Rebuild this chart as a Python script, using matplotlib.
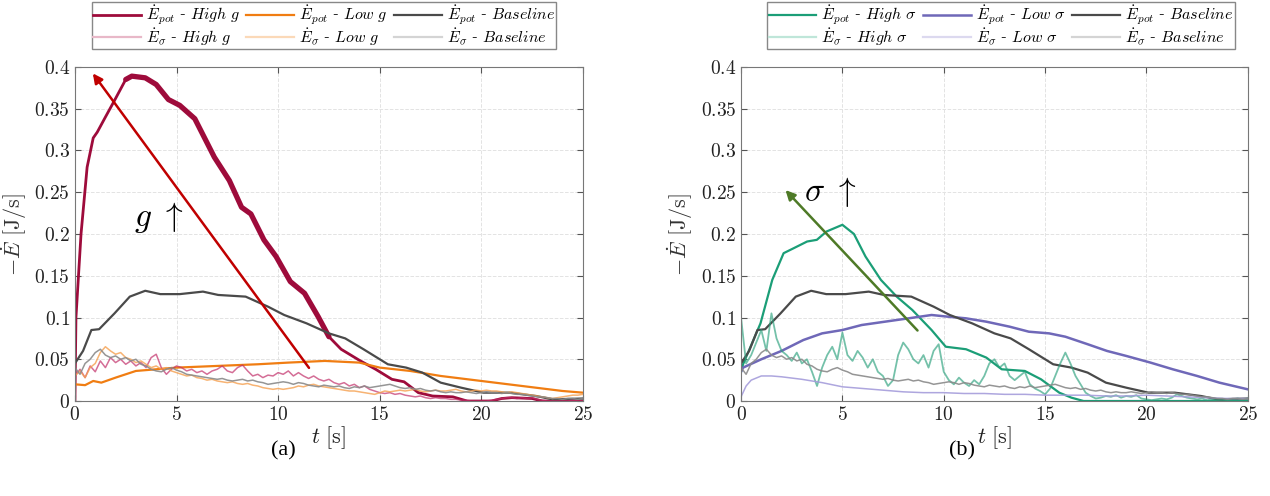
import numpy as np
import matplotlib
matplotlib.use("Agg")
import matplotlib.pyplot as plt

plt.rcParams['font.family'] = ['DejaVu Serif']
plt.rcParams['mathtext.fontset'] = 'cm'
plt.rcParams['axes.unicode_minus'] = False

# ---- smooth E_pot curves ----
t_high_g = [0, 0.05, 0.3, 0.6, 0.9, 1.1, 1.5, 1.95, 2.5, 2.8, 3.46, 4.0, 4.6, 5.16, 5.9, 6.86,
            7.6, 8.2, 8.66, 9.3, 9.9, 10.6, 11.3, 11.97, 12.5, 13.1, 14.05, 14.8, 15.6, 16.2,
            16.9, 17.6, 18.6, 19.3, 20.5, 21.0, 21.5, 22.5, 23.0, 25]
pot_high_g = [0.0, 0.10, 0.20, 0.28, 0.315, 0.322, 0.34, 0.36, 0.385, 0.389, 0.387, 0.379, 0.361,
              0.354, 0.338, 0.292, 0.264, 0.232, 0.224, 0.193, 0.173, 0.143, 0.129, 0.101, 0.077,
              0.062, 0.048, 0.038, 0.026, 0.023, 0.010, 0.006, 0.005, 0.0, 0.0, 0.003, 0.004,
              0.003, 0.0, 0.0]

t_low_g = [0, 0.5, 0.9, 1.3, 2, 3, 4, 5, 7, 9, 10.5, 12.3, 14, 15, 16.5, 18, 20, 22, 24, 25]
pot_low_g = [0.020, 0.019, 0.024, 0.022, 0.028, 0.036, 0.038, 0.040, 0.042, 0.044, 0.046, 0.048,
             0.046, 0.040, 0.036, 0.030, 0.024, 0.018, 0.012, 0.010]

t_base = [0, 0.4, 0.81, 1.19, 1.95, 2.7, 3.46, 4.2, 5.16, 6.3, 7.05, 8.4, 9.5, 10.3, 11.4, 12.5,
          13.3, 14.2, 15.4, 16.3, 17.1, 18.0, 19.0, 20.1, 21.4, 22.7, 23.5, 25]
pot_base = [0.045, 0.060, 0.085, 0.086, 0.105, 0.125, 0.132, 0.128, 0.128, 0.131, 0.127, 0.125,
            0.113, 0.103, 0.093, 0.081, 0.075, 0.062, 0.044, 0.040, 0.034, 0.022, 0.016, 0.010,
            0.010, 0.006, 0.002, 0.003]

t_high_s = [0, 0.1, 0.96, 1.54, 2.1, 2.6, 3.26, 3.74, 4.22, 5.0, 5.57, 6.14, 6.9, 7.68, 8.45, 9.4,
            10.1, 11.1, 12.1, 12.86, 14.0, 14.8, 15.7, 16.3, 16.9, 20, 25]
pot_high_s = [0.035, 0.044, 0.093, 0.145, 0.177, 0.183, 0.191, 0.193, 0.203, 0.211, 0.200, 0.173,
              0.145, 0.125, 0.109, 0.085, 0.065, 0.062, 0.052, 0.038, 0.036, 0.026, 0.010, 0.004,
              0.0, 0.0, 0.0]

t_low_s = [0, 0.1, 1, 2, 3.07, 4.0, 5.0, 5.95, 7.1, 8.26, 9.4, 10.2, 11.1, 12.1, 13.25, 14.2, 15.2,
           16.0, 17.1, 18.05, 19.0, 20.2, 21.3, 22.5, 23.6, 25]
pot_low_s = [0.035, 0.040, 0.050, 0.060, 0.073, 0.081, 0.085, 0.091, 0.095, 0.099, 0.103, 0.101,
             0.099, 0.095, 0.089, 0.083, 0.081, 0.077, 0.068, 0.060, 0.054, 0.046, 0.038, 0.030,
             0.022, 0.014]

# ---- noisy E_sigma curves (0.25 s steps, 0..25 s) ----
sig_high_g = [0.030, 0.038, 0.028, 0.042, 0.035, 0.048, 0.040, 0.052, 0.046,
              0.050, 0.044, 0.048, 0.042, 0.046, 0.040, 0.052, 0.056,
              0.040, 0.032, 0.038, 0.042, 0.040, 0.036, 0.038, 0.034,
              0.036, 0.032, 0.036, 0.038, 0.042, 0.036, 0.034, 0.040,
              0.043, 0.036, 0.030, 0.032, 0.028, 0.031, 0.030, 0.034,
              0.032, 0.036, 0.030, 0.034, 0.030, 0.027, 0.030, 0.026,
              0.024, 0.026, 0.022, 0.020, 0.022, 0.018, 0.020, 0.016,
              0.018, 0.014, 0.012, 0.010, 0.009, 0.010, 0.008, 0.009,
              0.007, 0.006, 0.005, 0.006, 0.004, 0.003, 0.004, 0.003,
              0.003, 0.002, 0.002, 0.001, 0.001, 0.000, 0.000, 0.000,
              0.000, 0.001, 0.002, 0.003, 0.004, 0.004, 0.003, 0.004,
              0.003, 0.004, 0.002, 0.001, 0.000, 0.000, 0.000, 0.000,
              0.000, 0.001, 0.000, 0.000]

sig_low_g = [0.030, 0.036, 0.028, 0.040, 0.045, 0.058, 0.065, 0.060, 0.056,
             0.058, 0.052, 0.050, 0.046, 0.048, 0.044, 0.040, 0.042,
             0.038, 0.040, 0.036, 0.034, 0.032, 0.030, 0.031, 0.028,
             0.027, 0.025, 0.026, 0.024, 0.023, 0.022, 0.023, 0.021,
             0.020, 0.021, 0.019, 0.018, 0.016, 0.015, 0.014, 0.015,
             0.014, 0.015, 0.016, 0.018, 0.017, 0.019, 0.020, 0.018,
             0.017, 0.016, 0.015, 0.014, 0.013, 0.012, 0.012, 0.011,
             0.010, 0.009, 0.008, 0.010, 0.012, 0.011, 0.012, 0.013,
             0.012, 0.013, 0.014, 0.012, 0.011, 0.012, 0.013, 0.012,
             0.012, 0.013, 0.014, 0.012, 0.011, 0.012, 0.013, 0.012,
             0.013, 0.012, 0.012, 0.011, 0.010, 0.011, 0.010, 0.009,
             0.008, 0.007, 0.006, 0.005, 0.004, 0.003, 0.004, 0.005,
             0.006, 0.007, 0.007, 0.008]

sig_base = [0.040, 0.032, 0.045, 0.050, 0.058, 0.062, 0.055, 0.052, 0.054,
            0.050, 0.052, 0.048, 0.050, 0.044, 0.042, 0.038, 0.036,
            0.035, 0.038, 0.040, 0.037, 0.035, 0.032, 0.031, 0.030,
            0.029, 0.028, 0.027, 0.026, 0.027, 0.025, 0.024, 0.025,
            0.026, 0.024, 0.025, 0.023, 0.022, 0.020, 0.021, 0.022,
            0.023, 0.022, 0.020, 0.022, 0.021, 0.019, 0.018, 0.017,
            0.019, 0.018, 0.017, 0.018, 0.016, 0.015, 0.017, 0.016,
            0.018, 0.016, 0.017, 0.018, 0.019, 0.020, 0.018, 0.016,
            0.015, 0.016, 0.014, 0.015, 0.013, 0.012, 0.013, 0.011,
            0.010, 0.011, 0.010, 0.010, 0.011, 0.010, 0.009, 0.010,
            0.011, 0.010, 0.010, 0.009, 0.010, 0.009, 0.008, 0.008,
            0.007, 0.006, 0.005, 0.005, 0.004, 0.003, 0.003, 0.002,
            0.003, 0.003, 0.002, 0.003]

sig_high_s = [0.100, 0.045, 0.055, 0.070, 0.085, 0.060, 0.105, 0.075, 0.060,
              0.055, 0.048, 0.058, 0.045, 0.050, 0.035, 0.018, 0.040,
              0.055, 0.065, 0.050, 0.082, 0.055, 0.048, 0.060, 0.052,
              0.040, 0.050, 0.035, 0.030, 0.018, 0.025, 0.055, 0.070,
              0.062, 0.050, 0.045, 0.055, 0.040, 0.060, 0.068, 0.035,
              0.025, 0.020, 0.028, 0.022, 0.018, 0.025, 0.020, 0.030,
              0.045, 0.050, 0.040, 0.045, 0.030, 0.025, 0.030, 0.035,
              0.020, 0.015, 0.012, 0.008, 0.015, 0.030, 0.045, 0.058,
              0.045, 0.030, 0.020, 0.010, 0.006, 0.003, 0.004, 0.006,
              0.005, 0.007, 0.004, 0.006, 0.005, 0.007, 0.003, 0.002,
              0.001, 0.002, 0.003, 0.002, 0.004, 0.008, 0.006, 0.004,
              0.003, 0.002, 0.003, 0.001, 0.002, 0.001, 0.002, 0.001,
              0.002, 0.003, 0.002, 0.003]

t_sig_low_s = [0, 0.25, 0.5, 1, 1.5, 2, 3, 4, 5, 6, 7, 8, 9, 10, 11, 12, 13, 14, 15, 16, 17, 18,
               19, 20, 21, 22, 23, 24, 25]
sig_low_s = [0.005, 0.018, 0.025, 0.030, 0.030, 0.029, 0.026, 0.022, 0.017, 0.015, 0.013, 0.011,
             0.010, 0.010, 0.009, 0.009, 0.008, 0.008, 0.007, 0.007, 0.007, 0.006, 0.006, 0.007,
             0.006, 0.005, 0.004, 0.003, 0.003]

x_ticks = [0, 5, 10, 15, 20, 25]
y_ticks = [0, 0.05, 0.1, 0.15, 0.2, 0.25, 0.3, 0.35, 0.4]
y_tick_labels = ['0', '0.05', '0.1', '0.15', '0.2', '0.25', '0.3', '0.35', '0.4']

t_grid = np.linspace(0, 25, 101)

c_high_g = '#9e0b3b'
c_low_g = '#f07d12'
c_base = '#4a4a4a'
c_high_s = '#1b9e77'
c_low_s = '#6f68b8'

fig = plt.figure(figsize=(12.7, 4.96), dpi=100)
ax1 = fig.add_axes([0.059, 0.1915, 0.400, 0.6735])
ax2 = fig.add_axes([0.5835, 0.1915, 0.399, 0.6735])


def style_axes(ax):
    ax.set_xlim(0, 25)
    ax.set_ylim(0, 0.4)
    ax.set_xticks(x_ticks)
    ax.set_xticklabels(['$%d$' % v for v in x_ticks])
    ax.set_yticks(y_ticks)
    ax.set_yticklabels(['$%s$' % s for s in y_tick_labels])
    ax.grid(True, ls='--', color='#e3e3e3', lw=0.7)
    ax.tick_params(direction='in', top=True, right=True, labelsize=14, color='#555555',
                   length=4, labelcolor='#222222')
    for s in ax.spines.values():
        s.set_color('#777777')
    ax.set_xlabel(r'$t\ [\mathrm{s}]$', fontsize=16, labelpad=0, color='#222222')
    ax.set_ylabel(r'$-\dot{E}\ [\mathrm{J/s}]$', fontsize=16, labelpad=4, color='#333333')


def add_legend(ax, handles, labels, cx):
    ax.legend(handles, labels, ncol=3, loc='upper center', bbox_to_anchor=(cx, 1 - 2 / 496),
              bbox_transform=fig.transFigure, fontsize=11.5, frameon=True, fancybox=False,
              edgecolor='#888888', framealpha=1, handlelength=3.0, borderpad=0.1,
              labelspacing=-0.05, columnspacing=0.4, handletextpad=0.3, borderaxespad=0)


# ---- panel (a) ----
h1, = ax1.plot(t_high_g, pot_high_g, color=c_high_g, lw=2.0)
th = np.array(t_high_g)
mask = (th >= 2.5) & (th <= 12.5)
ax1.plot(th[mask], np.array(pot_high_g)[mask], color=c_high_g, lw=3.8, solid_capstyle='round')
h2, = ax1.plot(t_low_g, pot_low_g, color=c_low_g, lw=1.6)
h3, = ax1.plot(t_base, pot_base, color=c_base, lw=1.6)
ax1.plot(t_grid, sig_high_g, color='#c2306a', lw=1.1, alpha=0.7)
ax1.plot(t_grid, sig_low_g, color='#f5a050', lw=1.1, alpha=0.8)
ax1.plot(t_grid, sig_base, color='#8a8a8a', lw=1.1, alpha=0.9)
ax1.annotate('', xy=(0.8, 0.395), xytext=(11.6, 0.037),
             arrowprops=dict(arrowstyle='-|>', color='#c00000', lw=1.8, mutation_scale=14))
ax1.text(2.9, 0.21, r'$g\ \uparrow$', fontsize=24)
style_axes(ax1)

lh_a = [h1, ax1.plot([], [], color='#e8b8c8', lw=1.6)[0],
        h2, ax1.plot([], [], color='#fbd9b8', lw=1.6)[0],
        h3, ax1.plot([], [], color='#d4d4d4', lw=1.6)[0]]
ll_a = [r'$\dot{E}_{pot}$ - $\mathit{High}\ g$', r'$\dot{E}_{\sigma}$ - $\mathit{High}\ g$',
        r'$\dot{E}_{pot}$ - $\mathit{Low}\ g$', r'$\dot{E}_{\sigma}$ - $\mathit{Low}\ g$',
        r'$\dot{E}_{pot}$ - $\mathit{Baseline}$', r'$\dot{E}_{\sigma}$ - $\mathit{Baseline}$']
add_legend(ax1, lh_a, ll_a, 324 / 1270)

# ---- panel (b) ----
g1, = ax2.plot(t_high_s, pot_high_s, color=c_high_s, lw=1.6)
g2, = ax2.plot(t_low_s, pot_low_s, color=c_low_s, lw=1.8)
g3, = ax2.plot(t_base, pot_base, color=c_base, lw=1.6)
ax2.plot(t_grid, sig_high_s, color='#2aa07c', lw=1.3, alpha=0.65)
ax2.plot(t_sig_low_s, sig_low_s, color='#a59ddb', lw=1.1, alpha=0.9)
ax2.plot(t_grid, sig_base, color='#8a8a8a', lw=1.1, alpha=0.9)
ax2.annotate('', xy=(2.1, 0.255), xytext=(8.8, 0.082),
             arrowprops=dict(arrowstyle='-|>', color='#4e7a27', lw=1.8, mutation_scale=14))
ax2.text(3.1, 0.24, r'$\sigma\ \uparrow$', fontsize=24)
style_axes(ax2)

lh_b = [g1, ax2.plot([], [], color='#bfe6d9', lw=1.6)[0],
        g2, ax2.plot([], [], color='#dcd9ef', lw=1.6)[0],
        g3, ax2.plot([], [], color='#d4d4d4', lw=1.6)[0]]
ll_b = [r'$\dot{E}_{pot}$ - $\mathit{High}\ \sigma$', r'$\dot{E}_{\sigma}$ - $\mathit{High}\ \sigma$',
        r'$\dot{E}_{pot}$ - $\mathit{Low}\ \sigma$', r'$\dot{E}_{\sigma}$ - $\mathit{Low}\ \sigma$',
        r'$\dot{E}_{pot}$ - $\mathit{Baseline}$', r'$\dot{E}_{\sigma}$ - $\mathit{Baseline}$']
add_legend(ax2, lh_b, ll_b, 1001 / 1270)

fig.text(283 / 1270, 1 - 451 / 496, '(a)', ha='center', va='center', fontsize=16,
         family='Liberation Serif')
fig.text(962 / 1270, 1 - 451 / 496, '(b)', ha='center', va='center', fontsize=16,
         family='Liberation Serif')

fig.savefig('out.png', dpi=100)
